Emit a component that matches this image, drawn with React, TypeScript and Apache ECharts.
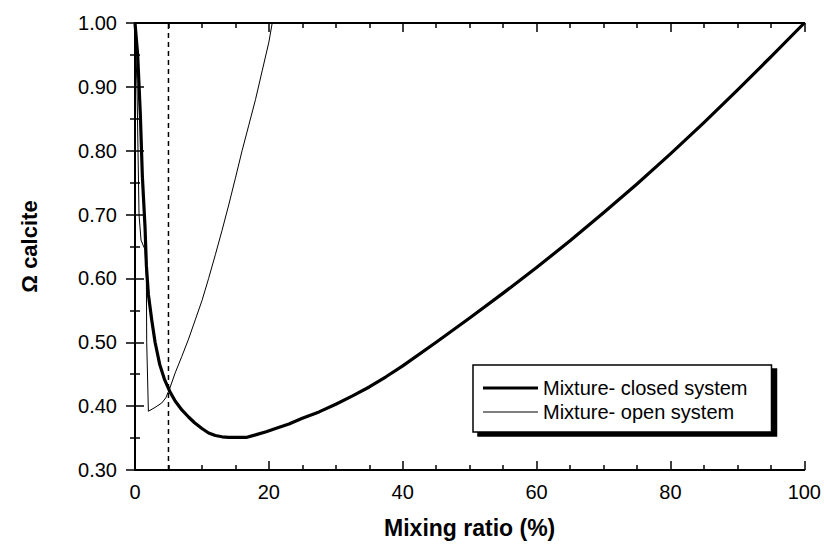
import React, { useEffect, useRef } from "react";
import * as echarts from "echarts";

// Mixing ratio (%) and Ω calcite – closed system
const closedX = [0, 0.4, 0.8, 1.1, 1.5, 1.7, 2.0, 2.5, 3.0, 3.7, 4.4, 5.2, 6.0, 7.0, 8.0, 8.9, 10, 11, 12, 13, 14, 16.6, 18, 19.6, 21, 23, 25, 27.5, 30, 32.5, 35, 37.5, 40, 45, 50, 55, 60, 65, 70, 75, 80, 85, 90, 95, 100];
const closedY = [1.0, 0.95, 0.856, 0.76, 0.68, 0.62, 0.575, 0.535, 0.5, 0.465, 0.442, 0.423, 0.408, 0.394, 0.383, 0.374, 0.365, 0.358, 0.354, 0.352, 0.351, 0.351, 0.355, 0.36, 0.365, 0.372, 0.381, 0.391, 0.403, 0.416, 0.43, 0.446, 0.463, 0.5, 0.538, 0.577, 0.617, 0.659, 0.703, 0.748, 0.795, 0.844, 0.895, 0.947, 1.0];

// Open system
const openX = [0, 0.3, 0.45, 0.6, 0.9, 1.5, 1.7, 1.75, 2.0, 3.0, 4.0, 4.6, 5.2, 6.0, 7.0, 8.0, 9.0, 10.0, 11.0, 12.0, 13.0, 14.0, 15.0, 16.0, 17.0, 18.0, 19.0, 20.0, 20.5];
const openY = [1.0, 0.9, 0.8, 0.7, 0.66, 0.645, 0.6, 0.5, 0.392, 0.398, 0.405, 0.413, 0.428, 0.452, 0.478, 0.505, 0.535, 0.565, 0.6, 0.637, 0.675, 0.715, 0.757, 0.8, 0.84, 0.88, 0.925, 0.97, 1.0];

// Dashed reference line at 5 %
const dashX = [5, 5];
const dashY = [0.3, 1.0];

const seriesNames = ["Mixture- closed system", "Mixture- open system"];
const xTitle = "Mixing ratio (%)";
const yTitle = "Ω calcite";

const FONT = "'Liberation Sans', Arial, sans-serif";

export default function App() {
  const ref = useRef<HTMLDivElement>(null);
  useEffect(() => {
    if (!ref.current) return;
    const chart = echarts.init(ref.current, null, { renderer: "svg" });
    const zip = (xs: number[], ys: number[]) => xs.map((x, i) => [x, ys[i]]);
    const axisLine = { show: true, lineStyle: { color: "#000", width: 2 } };
    const tick = { show: true, inside: true, length: 9, lineStyle: { color: "#000", width: 1.5 } };
    const minor = (n: number) => ({ show: true, splitNumber: n, length: 5, lineStyle: { color: "#000", width: 1.5 } });
    chart.setOption({
      animation: false,
      backgroundColor: "#ffffff",
      textStyle: { fontFamily: FONT, color: "#000" },
      grid: { left: 135, right: 18, top: 23, bottom: 79, containLabel: false },
      legend: {
        data: [
          { name: seriesNames[0], icon: "path://M0,0H55V3H0Z" },
          { name: seriesNames[1], icon: "path://M0,0H55V1H0Z" },
        ],
        orient: "vertical",
        left: 473,
        top: 365,
        itemWidth: 55,
        itemHeight: 10,
        itemGap: 4,
        symbolKeepAspect: true,
        padding: [13, 24, 10, 10],
        backgroundColor: "#ffffff",
        borderColor: "#000",
        borderWidth: 1.5,
        shadowColor: "#000",
        shadowBlur: 0,
        shadowOffsetX: 5,
        shadowOffsetY: 4,
        itemStyle: { color: "#000", borderWidth: 0 },
        textStyle: { fontFamily: FONT, fontSize: 20, color: "#000", lineHeight: 20 },
        selectedMode: false,
      },
      xAxis: [
        {
          type: "value",
          min: 0,
          max: 100,
          interval: 20,
          position: "bottom",
          name: xTitle,
          nameLocation: "middle",
          nameGap: 46,
          nameTextStyle: { fontFamily: FONT, fontSize: 23, fontWeight: "bold", color: "#000" },
          axisLine,
          axisTick: tick,
          minorTick: minor(4),
          splitLine: { show: false },
          axisLabel: { fontFamily: FONT, fontSize: 20, color: "#000", margin: 12 },
        },
        {
          type: "value",
          min: 0,
          max: 100,
          interval: 20,
          position: "top",
          axisLine,
          axisTick: tick,
          minorTick: minor(4),
          splitLine: { show: false },
          axisLabel: { show: false },
        },
      ],
      yAxis: [
        {
          type: "value",
          min: 0.3,
          max: 1.0,
          interval: 0.1,
          position: "left",
          name: yTitle,
          nameLocation: "middle",
          nameRotate: 90,
          nameGap: 95,
          nameTextStyle: { fontFamily: FONT, fontSize: 22, fontWeight: "bold", color: "#000" },
          axisLine,
          axisTick: tick,
          minorTick: minor(2),
          splitLine: { show: false },
          axisLabel: { fontFamily: FONT, fontSize: 20, color: "#000", margin: 18, formatter: (v: number) => v.toFixed(2) },
        },
        {
          type: "value",
          min: 0.3,
          max: 1.0,
          interval: 0.1,
          position: "right",
          axisLine,
          axisTick: tick,
          minorTick: minor(2),
          splitLine: { show: false },
          axisLabel: { show: false },
        },
      ],
      series: [
        {
          name: "dash",
          type: "line",
          data: zip(dashX, dashY),
          symbol: "none",
          lineStyle: { color: "#000", width: 1.5, type: [5, 4] },
          z: 1,
          silent: true,
        },
        {
          name: seriesNames[1],
          type: "line",
          data: zip(openX, openY),
          symbol: "none",
          color: "#000",
          lineStyle: { color: "#000", width: 1 },
          z: 2,
        },
        {
          name: seriesNames[0],
          type: "line",
          data: zip(closedX, closedY),
          symbol: "none",
          color: "#000",
          lineStyle: { color: "#000", width: 3.2, join: "round" },
          z: 3,
        },
      ],
    });
    return () => chart.dispose();
  }, []);
  return (
    <div
      ref={ref}
      style={{ position: "absolute", left: 0, top: 0, width: 824, height: 549 }}
    />
  );
}
